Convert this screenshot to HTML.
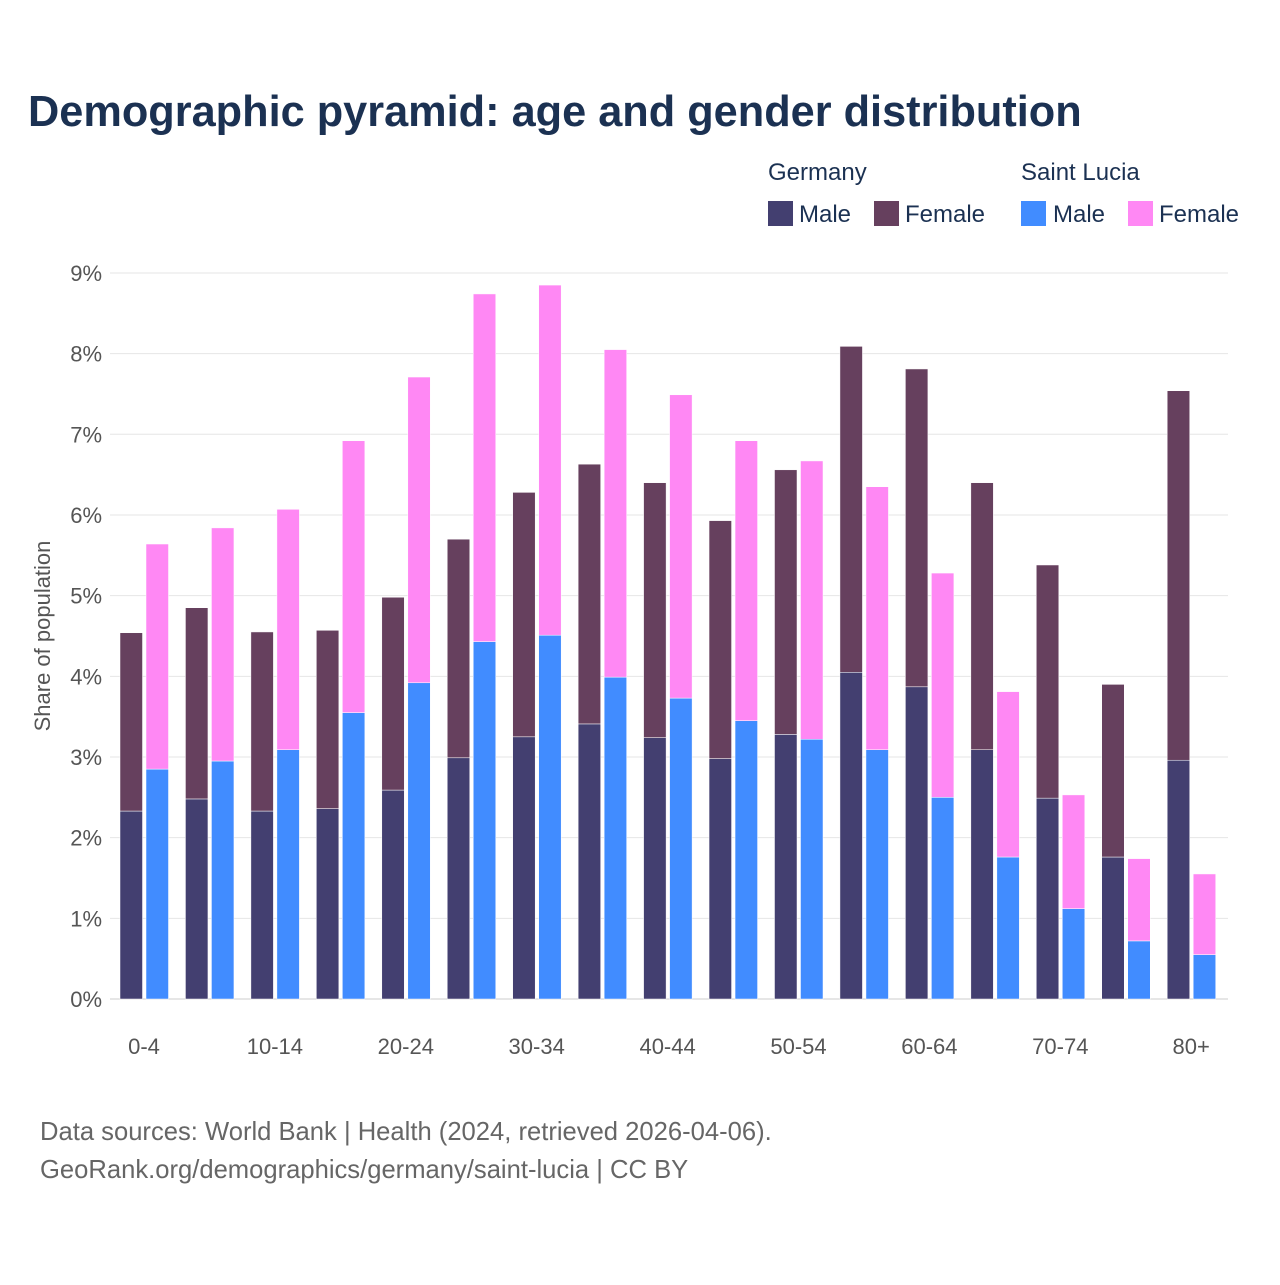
<!DOCTYPE html>
<html><head><meta charset="utf-8"><style>
body{margin:0;background:#fff;}
svg text{font-family:"Liberation Sans",sans-serif;}
</style></head><body>
<svg id="chart" width="1280" height="1280" viewBox="0 0 1280 1280" xmlns="http://www.w3.org/2000/svg">
<rect width="1280" height="1280" fill="#fff"/>
<text x="28" y="126" font-size="43.3" font-weight="bold" fill="#1b3152">Demographic pyramid: age and gender distribution</text>
<g font-size="24" fill="#1b3152">
<text x="768" y="180" fill="#1b3152">Germany</text>
<text x="1021" y="180" fill="#1b3152">Saint Lucia</text>
<rect x="768" y="201" width="25" height="25" fill="#433f70"/>
<text x="799" y="222" fill="#1b3152">Male</text>
<rect x="874" y="201" width="25" height="25" fill="#66405e"/>
<text x="905" y="222" fill="#1b3152">Female</text>
<rect x="1021" y="201" width="25" height="25" fill="#418cff"/>
<text x="1053" y="222" fill="#1b3152">Male</text>
<rect x="1128" y="201" width="25" height="25" fill="#ff88f4"/>
<text x="1159" y="222" fill="#1b3152">Female</text>
</g>
<g id="grid"></g>
<g id="bars"></g>
<g id="xlabels"></g>
<text transform="translate(50,636) rotate(-90)" text-anchor="middle" font-size="22" fill="#555">Share of population</text>
<text x="40" y="1140" font-size="25.6" fill="#666">Data sources: World Bank | Health (2024, retrieved 2026-04-06).</text>
<text x="40" y="1178" font-size="25.6" fill="#666">GeoRank.org/demographics/germany/saint-lucia | CC BY</text>
</svg>
<script>
const categories=["0-4","5-9","10-14","15-19","20-24","25-29","30-34","35-39","40-44","45-49","50-54","55-59","60-64","65-69","70-74","75-79","80+"];
const germanyMale=[2.33,2.48,2.33,2.36,2.59,2.99,3.25,3.41,3.24,2.98,3.28,4.05,3.87,3.09,2.49,1.76,2.96];
const germanyFemale=[2.21,2.37,2.22,2.21,2.39,2.71,3.03,3.22,3.16,2.95,3.28,4.04,3.94,3.31,2.89,2.14,4.58];
const luciaMale=[2.85,2.95,3.09,3.55,3.92,4.43,4.51,3.99,3.73,3.45,3.22,3.09,2.50,1.76,1.12,0.72,0.55];
const luciaFemale=[2.79,2.89,2.98,3.37,3.79,4.31,4.34,4.06,3.76,3.47,3.45,3.26,2.78,2.05,1.41,1.02,1.00];
const yTicks=[0,1,2,3,4,5,6,7,8,9];
const NS="http://www.w3.org/2000/svg";
const y0=999,pxPer=80.67;
function yS(v){return y0-v*pxPer;}
function xS(i){return 120+i*65.45;}
const grid=document.getElementById('grid'),bars=document.getElementById('bars'),xl=document.getElementById('xlabels');
function mk(tag,attrs,parent){const e=document.createElementNS(NS,tag);for(const k in attrs)e.setAttribute(k,attrs[k]);parent.appendChild(e);return e;}
yTicks.forEach(t=>{
  const l=mk('line',{x1:110,x2:1228,y1:yS(t),y2:yS(t),stroke:t===0?'#ccc':'#e6e6e6','stroke-width':1},grid);
  
  
  const tx=mk('text',{x:102,y:yS(t)+8,'text-anchor':'end','font-size':22,fill:'#555'},grid);
  tx.textContent=t+'%';
  
  
});
const w=22.5;
categories.forEach((c,i)=>{
  const x=xS(i);
  const segs=[[x,0,germanyMale[i],'#433f70','germany-male'],[x,germanyMale[i],germanyFemale[i],'#66405e','germany-female'],
    [x+26,0,luciaMale[i],'#418cff','saint-lucia-male'],[x+26,luciaMale[i],luciaFemale[i],'#ff88f4','saint-lucia-female']];
  segs.forEach(s=>{
    const r=mk('rect',{x:s[0],y:yS(s[1]+s[2]),width:w,height:s[2]*pxPer,fill:s[3],stroke:'#fff','stroke-width':0.5},bars);
    
    
  });
  if(i%2===0){
    const t=mk('text',{x:x+24,y:1054,'text-anchor':'middle','font-size':22,fill:'#555'},xl);
    t.textContent=c;
    
    
  }
});
</script>
</body></html>
